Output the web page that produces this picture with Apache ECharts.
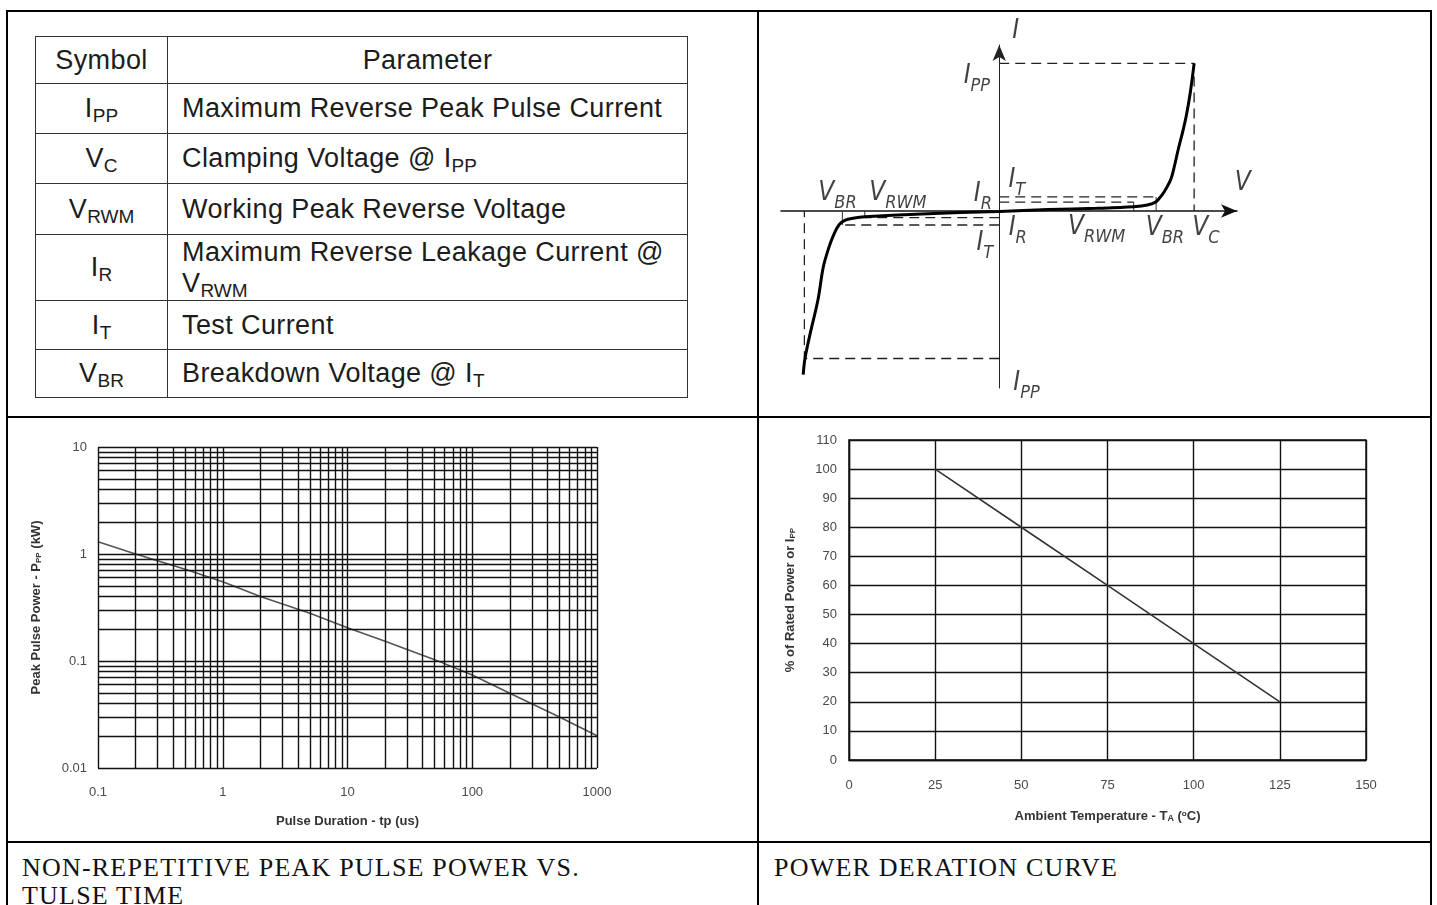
<!DOCTYPE html>
<html>
<head>
<meta charset="utf-8">
<script src="https://cdn.jsdelivr.net/npm/echarts@6/dist/echarts.min.js"></script>
<style>
html,body{margin:0;padding:0;width:1437px;height:905px;overflow:hidden;background:#fff;}
.ln{position:absolute;background:#000;}
#chart{position:absolute;left:0;top:0;width:1437px;height:905px;}
table.sym{position:absolute;left:35px;top:36px;width:652px;border-collapse:collapse;table-layout:fixed;
  font-family:'Liberation Sans',Arial,sans-serif;font-size:27px;color:#1c1c1c;letter-spacing:0.4px;}
table.sym td{border:1.6px solid #333;padding:0;box-sizing:border-box;}
table.sym td.s{text-align:center;}
table.sym td.p{padding-left:14px;}
table.sym sub{font-size:19px;vertical-align:-5px;line-height:0;letter-spacing:0;}
.cap{position:absolute;font-family:'Liberation Serif','Times New Roman',serif;font-size:26px;line-height:28px;color:#111;letter-spacing:1.2px;}
</style>
</head>
<body>
<div class="ln" style="left:6px;top:10px;width:1426px;height:2px;"></div>
<div class="ln" style="left:6px;top:10px;width:2px;height:900px;"></div>
<div class="ln" style="left:1430px;top:10px;width:2px;height:900px;"></div>
<div class="ln" style="left:757px;top:10px;width:2px;height:900px;"></div>
<div class="ln" style="left:6px;top:416px;width:1426px;height:2px;"></div>
<div class="ln" style="left:6px;top:841px;width:1426px;height:2px;"></div>

<table class="sym">
<colgroup><col style="width:132px"><col style="width:520px"></colgroup>
<tr style="height:47px"><td class="s">Symbol</td><td class="s">Parameter</td></tr>
<tr style="height:50px"><td class="s">I<sub>PP</sub></td><td class="p">Maximum Reverse Peak Pulse Current</td></tr>
<tr style="height:50px"><td class="s">V<sub>C</sub></td><td class="p">Clamping Voltage @ I<sub>PP</sub></td></tr>
<tr style="height:51px"><td class="s">V<sub>RWM</sub></td><td class="p">Working Peak Reverse Voltage</td></tr>
<tr style="height:66px"><td class="s">I<sub>R</sub></td><td class="p" style="line-height:31px">Maximum Reverse Leakage Current @<br>V<sub>RWM</sub></td></tr>
<tr style="height:49px"><td class="s">I<sub>T</sub></td><td class="p">Test Current</td></tr>
<tr style="height:48px"><td class="s">V<sub>BR</sub></td><td class="p">Breakdown Voltage @ I<sub>T</sub></td></tr>
</table>

<div class="cap" style="left:22px;top:854px;">NON-REPETITIVE PEAK PULSE POWER VS.<br>TULSE TIME</div>
<div class="cap" style="left:774px;top:854px;">POWER DERATION CURVE</div>

<div id="chart"></div>
<script>
// ---------- I-V characteristic (schematic; V normalised to V_C, I normalised to I_PP) ----------
const ivCurve = [[-1.006,-1.11],[-0.997,-1.0],[-0.97,-0.83],[-0.93,-0.6],[-0.903,-0.38],[-0.875,-0.25],
  [-0.846,-0.15],[-0.82,-0.09],[-0.79,-0.062],[-0.75,-0.05],[-0.69,-0.04],[-0.4,-0.02],[0,-0.003],
  [0.25,0.01],[0.5,0.018],[0.69,0.028],[0.76,0.04],[0.805,0.063],[0.836,0.11],[0.86,0.16],[0.882,0.22],
  [0.9,0.31],[0.918,0.415],[0.94,0.53],[0.959,0.64],[0.98,0.8],[1.0,1.0]];
const ivVC = 1.0, ivVBR = 0.805, ivVRWM = 0.69, ivIPP = 1.0, ivIT = 0.095, ivIR = 0.06, ivIRneg = 0.045;
const ivDashed = [
  [[0,ivIPP],[ivVC,ivIPP],[ivVC,0]],
  [[0,-ivIPP],[-ivVC,-ivIPP],[-ivVC,0]],
  [[0,ivIT],[ivVBR,ivIT]],
  [[0,ivIR],[ivVRWM,ivIR]],
  [[0,-ivIT],[-ivVBR,-ivIT]],
  [[0,-ivIRneg],[-ivVRWM,-ivIRneg]]
];
const ivTicks = [
  [[ivVBR,0],[ivVBR,ivIT]], [[ivVRWM,0],[ivVRWM,ivIR]],
  [[-ivVBR,0],[-ivVBR,-ivIT]], [[-ivVRWM,0],[-ivVRWM,-ivIRneg]]
];
const ivLabelText = ['{m|I}','{m|I}{s|PP}','{m|I}{s|T}','{m|I}{s|R}','{m|V}','{m|V}{s|BR}','{m|V}{s|RWM}',
  '{m|I}{s|R}','{m|V}{s|RWM}','{m|V}{s|BR}','{m|V}{s|C}','{m|I}{s|T}','{m|I}{s|PP}'];
const ivLabelAt = [[0.085,1.2],[-0.115,0.89],[0.09,0.19],[-0.084,0.09],[1.25,0.17],[-0.83,0.1],[-0.52,0.1],
  [0.095,-0.14],[0.5,-0.13],[0.85,-0.14],[1.06,-0.14],[-0.074,-0.24],[0.14,-1.19]];

// ---------- Peak pulse power vs pulse time ----------
const pulseTime = [0.1,0.2,0.5,1,2,5,10,20,50,100,200,500,1000];
const pulsePower = [1.3,1.0,0.72,0.55,0.4,0.28,0.205,0.153,0.103,0.074,0.05,0.03,0.02];
const logXTicks = [0.1,1,10,100,1000];
const logYTicks = [0.01,0.1,1,10];

// ---------- Power derating ----------
const tempC = [25,50,75,100,125];
const ratedPct = [100,80,60,40,20];

function logGrid(ticks){
  const out = [];
  for (let i = 0; i < ticks.length - 1; i++) {
    for (let m = 1; m <= 9; m++) out.push(Number((ticks[i]*m).toPrecision(6)));
  }
  out.push(ticks[ticks.length-1]);
  return out;
}
const logXGrid = logGrid(logXTicks);
const logYGrid = logGrid(logYTicks);

const ivFont = "'Liberation Sans Narrow','DejaVu Sans Condensed','Liberation Sans',sans-serif";
const sans = "'Liberation Sans',Arial,sans-serif";
const ivRich = {
  m:{fontSize:26,fontStyle:'italic',fontFamily:ivFont,color:'#111',verticalAlign:'bottom',padding:[0,0,6,0]},
  s:{fontSize:18,fontStyle:'italic',fontFamily:ivFont,color:'#111',verticalAlign:'bottom'}
};

const chart = echarts.init(document.getElementById('chart'), null, {renderer:'canvas'});

const series = [];
ivDashed.forEach(function(d){
  series.push({type:'line',xAxisIndex:0,yAxisIndex:0,data:d,symbol:'none',silent:true,clip:false,
    lineStyle:{color:'#222',width:1.3,type:[10,6]}});
});
ivTicks.forEach(function(d){
  series.push({type:'line',xAxisIndex:0,yAxisIndex:0,data:d,symbol:'none',silent:true,clip:false,
    lineStyle:{color:'#333',width:1}});
});
series.push({type:'line',xAxisIndex:0,yAxisIndex:0,data:ivCurve,symbol:'none',smooth:0.35,clip:false,
  lineStyle:{color:'#000',width:3}, z:5});
series.push({type:'scatter',xAxisIndex:0,yAxisIndex:0,symbolSize:0,clip:false,silent:true,
  data:ivLabelAt.map(function(p,i){return {value:p,label:{formatter:ivLabelText[i]}};}),
  label:{show:true,position:'inside',rich:ivRich}, z:6});

series.push({type:'line',xAxisIndex:1,yAxisIndex:1,data:pulseTime.map(function(t,i){return [t,pulsePower[i]];}),
  symbol:'none',smooth:false,lineStyle:{color:'#555',width:1.6},z:4,
  markLine:{silent:true,symbol:['none','none'],label:{show:false},animation:false,
    lineStyle:{color:'#111',width:1.4,type:'solid'},
    emphasis:{disabled:true},
    data:logXGrid.map(function(v){return {xAxis:v};}).concat(logYGrid.map(function(v){return {yAxis:v};}))}});

series.push({type:'line',xAxisIndex:2,yAxisIndex:2,data:tempC.map(function(t,i){return [t,ratedPct[i]];}),
  symbol:'none',lineStyle:{color:'#333',width:1.6},z:4});

const option = {
  animation:false,
  backgroundColor:'transparent',
  grid:[
    {left:781,top:45,width:456,height:343},
    {left:98,top:447,width:499,height:321},
    {left:849,top:440,width:517,height:320,show:true,borderColor:'#111',borderWidth:1.4}
  ],
  xAxis:[
    {type:'value',gridIndex:0,min:-1.12,max:1.22,
      axisLine:{show:true,onZero:true,symbol:['none','arrow'],symbolSize:[10,16],lineStyle:{color:'#111',width:1.6}},
      axisTick:{show:false},axisLabel:{show:false},splitLine:{show:false}},
    {type:'log',logBase:10,gridIndex:1,min:0.1,max:1000,
      axisLine:{show:false},axisTick:{show:false},splitLine:{show:false},
      axisLabel:{color:'#4a4a4a',fontSize:13,margin:18,fontFamily:sans,
        formatter:function(v){return String(Number(v.toPrecision(6)));}},
      name:'Pulse Duration - tp (us)',nameLocation:'middle',nameGap:47,
      nameTextStyle:{fontSize:13,fontWeight:'bold',color:'#333',fontFamily:sans}},
    {type:'value',gridIndex:2,min:0,max:150,interval:25,
      axisLine:{show:true,lineStyle:{color:'#111',width:1.4}},axisTick:{show:false},
      splitLine:{show:true,lineStyle:{color:'#111',width:1.4}},
      axisLabel:{color:'#4a4a4a',fontSize:13,margin:19,fontFamily:sans},
      name:'{a|Ambient Temperature - T}{b|A}{a| (}{c|o}{a|C)}',nameLocation:'middle',nameGap:50,
      nameTextStyle:{fontSize:13,fontWeight:'bold',color:'#333',fontFamily:sans,
        rich:{a:{fontSize:13,fontWeight:'bold',color:'#333',fontFamily:sans},
              b:{fontSize:9,fontWeight:'bold',color:'#333',fontFamily:sans,verticalAlign:'bottom'},
              c:{fontSize:8,fontWeight:'bold',color:'#333',fontFamily:sans,verticalAlign:'top'}}}}
  ],
  yAxis:[
    {type:'value',gridIndex:0,min:-1.2,max:1.125,
      axisLine:{show:true,onZero:true,symbol:['none','arrow'],symbolSize:[10,16],lineStyle:{color:'#222',width:1}},
      axisTick:{show:false},axisLabel:{show:false},splitLine:{show:false}},
    {type:'log',logBase:10,gridIndex:1,min:0.01,max:10,
      axisLine:{show:false},axisTick:{show:false},splitLine:{show:false},
      axisLabel:{color:'#4a4a4a',fontSize:13,margin:11,fontFamily:sans,
        formatter:function(v){return String(Number(v.toPrecision(6)));}},
      name:'{a|Peak Pulse Power - P}{b|PP}{a| (kW)}',nameLocation:'middle',nameGap:55,
      nameTextStyle:{fontSize:13,fontWeight:'bold',color:'#333',fontFamily:sans,
        rich:{a:{fontSize:13,fontWeight:'bold',color:'#333',fontFamily:sans},
              b:{fontSize:8,fontWeight:'bold',color:'#333',fontFamily:sans,verticalAlign:'bottom'}}}},
    {type:'value',gridIndex:2,min:0,max:110,interval:10,
      axisLine:{show:true,lineStyle:{color:'#111',width:1.4}},axisTick:{show:false},
      splitLine:{show:true,lineStyle:{color:'#111',width:1.4}},
      axisLabel:{color:'#4a4a4a',fontSize:13,margin:12,fontFamily:sans},
      name:'{a|% of Rated Power or I}{b|PP}',nameLocation:'middle',nameGap:52,
      nameTextStyle:{fontSize:13,fontWeight:'bold',color:'#333',fontFamily:sans,
        rich:{a:{fontSize:13,fontWeight:'bold',color:'#333',fontFamily:sans},
              b:{fontSize:8,fontWeight:'bold',color:'#333',fontFamily:sans,verticalAlign:'bottom'}}}}
  ],
  series:series
};
chart.setOption(option);
</script>
</body>
</html>
